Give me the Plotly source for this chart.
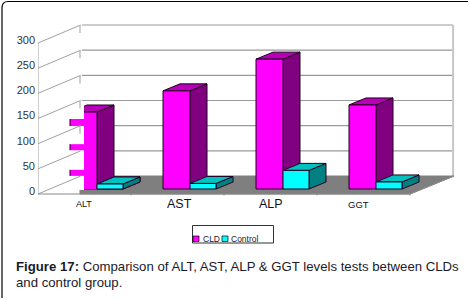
import plotly.graph_objects as go

categories = ['ALT', 'AST', 'ALP', 'GGT']
cld_values = [153, 195, 258, 167]
control_values = [10, 11, 37, 14]
y_ticks = [0, 50, 100, 150, 200, 250, 300]
cat_font_sizes = [9, 12.5, 12.5, 9.5]
cat_label_x = [0.49, 1.52, 2.5, 3.45]

MAGENTA = ['#FF00FF', '#800080', '#B800B8']
CYAN = ['#00FFFF', '#008080', '#00C0C0']
GRID = '#9a9a9a'

# axis scale: 93 px per category, 151 px for 300 units
PX_X = 93.0
PX_Y = 151.0 / 300
WALL_DX = 44 / PX_X
WALL_DY = 18 / PX_Y
BAR_BASE = 5 / PX_Y
BAR_DX = 17 / PX_X
BAR_DY = 7 / PX_Y
BAR_W = 27 / PX_X
BAR_OFFSET = 32 / PX_X
N = len(categories)

fig = go.Figure()


def poly(xs, ys, fill, line='#200020', width=1):
    fig.add_trace(go.Scatter(x=xs + xs[:1], y=ys + ys[:1], mode='lines', fill='toself', fillcolor=fill,
                             line=dict(color=line, width=width), showlegend=False, hoverinfo='skip'))


def line(xs, ys, color=GRID, width=1):
    fig.add_trace(go.Scatter(x=xs, y=ys, mode='lines', line=dict(color=color, width=width),
                             showlegend=False, hoverinfo='skip'))


def bar3d(left, width, value, colors):
    base = BAR_BASE
    top = base + value
    right = left + width
    poly([right, right + BAR_DX, right + BAR_DX, right], [base, base + BAR_DY, top + BAR_DY, top], colors[1])
    poly([left, right, right + BAR_DX, left + BAR_DX], [top, top, top + BAR_DY, top + BAR_DY], colors[2])
    poly([left, right, right, left], [base, base, top, top], colors[0])


# back wall gridlines
for t in y_ticks[1:]:
    line([WALL_DX, N + WALL_DX - 0.01], [t + WALL_DY, t + WALL_DY], width=1.2)
line([N + WALL_DX - 0.01, N + WALL_DX - 0.01], [WALL_DY, 300 + WALL_DY], color='#c8c8c8', width=2)

# floor
floor_left = 42 / PX_X
poly([floor_left, N + WALL_DX, N, floor_left], [WALL_DY, WALL_DY, 0, 0], '#7f7f7f', line='#7f7f7f')

# bars, first category gets cut by the white patches of the left wall
for i in range(N):
    bar3d(i + BAR_OFFSET, BAR_W, cld_values[i], MAGENTA)
    bar3d(i + BAR_OFFSET + BAR_W, 26 / PX_X, control_values[i], CYAN)
    if i == 0:
        for lo, hi in [(8, 36), (48, 87), (99, 135), (149, 179)]:
            poly([30 / PX_X, 46 / PX_X, 46 / PX_X, 30 / PX_X], [lo, lo, hi, hi], 'white', line='white', width=0)
        poly([46 / PX_X, BAR_OFFSET + BAR_W, BAR_OFFSET + BAR_W, 46 / PX_X],
             [BAR_BASE, BAR_BASE, BAR_BASE + cld_values[0], BAR_BASE + cld_values[0]], MAGENTA[0], line=MAGENTA[0], width=0)
        line([BAR_OFFSET + BAR_W, BAR_OFFSET + BAR_W], [BAR_BASE, BAR_BASE + cld_values[0]], color='#200020')
        line([46 / PX_X, BAR_OFFSET + BAR_W], [BAR_BASE + cld_values[0], BAR_BASE + cld_values[0]], color='#200020')
        bar3d(BAR_OFFSET + BAR_W, 26 / PX_X, control_values[0], CYAN)

# left wall
line([0, 0], [0, 300], color='#b0b0b0', width=1.2)
for t in y_ticks:
    line([0, WALL_DX * 0.97], [t, t + WALL_DY], color='#a0a0a0', width=1)
for t in y_ticks[2:]:
    line([42 / PX_X, 42 / PX_X], [t + WALL_DY - 16, t + WALL_DY], color='#b0b0b0', width=1.2)

# front floor edge with ticks
line([0, N], [0, 0], color='#8a8a8a', width=1)
line([N, N + WALL_DX], [0, WALL_DY], color='#8a8a8a', width=1)
for i in range(1, N + 1):
    line([i, i], [0, -3], color='#8a8a8a', width=1)

fig.update_layout(
    width=469, height=300, margin=dict(l=0, r=0, t=0, b=0),
    paper_bgcolor='white', plot_bgcolor='white',
    font=dict(family='Liberation Sans, Arial, sans-serif', color='#222222'),
    xaxis=dict(domain=[38 / 469, 1], range=[0, 431 / PX_X], visible=False, fixedrange=True),
    # range runs past the floor so the category labels below it stay on the axis
    yaxis=dict(domain=[0, 1], range=[-106 / PX_Y, 194 / PX_Y], showgrid=False, zeroline=False, showline=False,
               # labels sit a little above the wall lines in the original
               tickvals=[t + 6 for t in y_ticks], ticktext=[str(t) for t in y_ticks],
               tickfont=dict(size=11, color='#333333'), ticks='', ticklabelstandoff=2, fixedrange=True),
)

for i, cat in enumerate(categories):
    fig.add_annotation(x=cat_label_x[i], y=-20, yanchor='middle', text=cat, showarrow=False,
                       font=dict(size=cat_font_sizes[i], color='#111111'))


def px(x):
    return x / 469


def py(y):
    return 1 - y / 300


def rect(x0, y0, x1, y1, fill=None, color='black', width=1):
    fig.add_shape(type='rect', xref='paper', yref='paper', x0=px(x0), y0=py(y0), x1=px(x1), y1=py(y1),
                  fillcolor=fill, line=dict(color=color, width=width))


# hand drawn legend box
rect(192.5, 225.5, 273.5, 243, color='#333333')
rect(193, 236, 199, 241.5, fill=MAGENTA[0], width=0.7)
rect(222, 236, 228, 241.5, fill=CYAN[0], width=0.7)
fig.add_annotation(xref='paper', yref='paper', x=px(200.5), y=py(238.5), xanchor='left', yanchor='middle', text='CLD',
                   showarrow=False, font=dict(size=8.5, color='#222222'))
fig.add_annotation(xref='paper', yref='paper', x=px(229), y=py(238.5), xanchor='left', yanchor='middle', text='Control',
                   showarrow=False, font=dict(size=8.5, color='#222222'))

# caption
fig.add_annotation(xref='paper', yref='paper', x=px(13.5), y=py(266.5), xanchor='left', yanchor='middle',
                   text='<b>Figure 17:</b> Comparison of ALT, AST, ALP &amp; GGT levels tests between CLDs',
                   showarrow=False, font=dict(size=13.2, color='#1a1a2a'))
fig.add_annotation(xref='paper', yref='paper', x=px(13.5), y=py(282), xanchor='left', yanchor='middle',
                   text='and control group.', showarrow=False, font=dict(size=13.2, color='#1a1a2a'))

# page border, rounded top left and open on the right and bottom
fig.add_shape(type='path', xref='paper', yref='paper', line=dict(color='black', width=1.2),
              path=f'M {px(2)} {py(298)} L {px(2)} {py(8)} Q {px(2)} {py(1.5)} {px(8)} {py(1.5)} L {px(468)} {py(1.5)}')

# the browser's default body margin would push the 469x300 figure off the window
fig.write_html("out.html", config=dict(displayModeBar=False),
               post_script="document.body.style.margin='0';document.body.style.overflow='hidden';")
